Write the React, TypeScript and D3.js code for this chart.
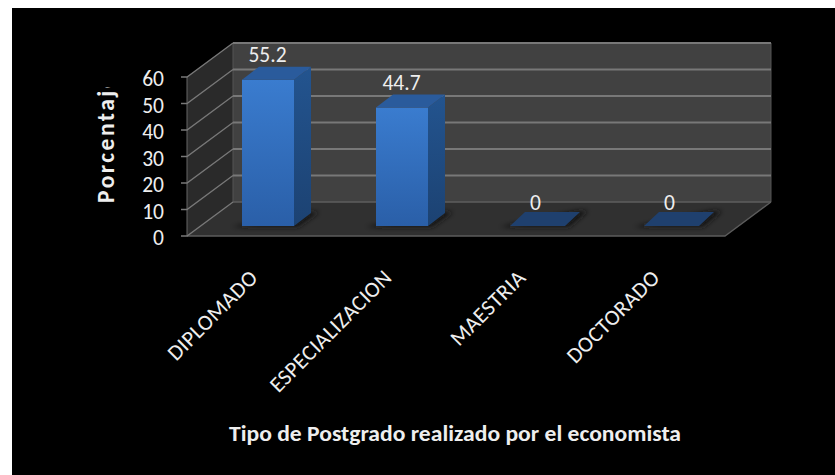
import React from "react";
import * as d3 from "d3";

const categories = ["DIPLOMADO", "ESPECIALIZACION", "MAESTRIA", "DOCTORADO"];
const values = [55.2, 44.7, 0, 0];
const valueLabels = ["55.2", "44.7", "0", "0"];
const yTicks = [0, 10, 20, 30, 40, 50, 60];
const yTitle = "Porcentaje";
const xTitle = "Tipo de Postgrado realizado por el economista";
const font = "Carlito, 'Open Sans', 'Noto Sans', sans-serif";

const W = 835, H = 475;
const y = d3.scaleLinear().domain([0, 60]).range([236, 77]);
const x = d3.scaleBand<string>().domain(categories).range([175, 711]).paddingInner(0);
const wallDx = 46, wallDy = -34;
const barDy = -13, barOffsetY = -10, barLeftInset = 67;
const frontL = 187, frontR = 725;

export default function App() {
  const y0 = y(0), y60 = y(60);
  const poly = (p: number[][]) => p.map((a) => a.join(",")).join(" ");
  return (
    <svg width={W} height={H} style={{ position: "absolute", left: 0, top: 0, background: "#fff" }} fontFamily={font}>
      <defs>
        <linearGradient id="front" x1="0" y1="0" x2="0" y2="1">
          <stop offset="0" stopColor="#3a7ccf" />
          <stop offset="1" stopColor="#2a5fa8" />
        </linearGradient>
        <linearGradient id="side" x1="0" y1="0" x2="0" y2="1">
          <stop offset="0" stopColor="#23548f" />
          <stop offset="1" stopColor="#1c4272" />
        </linearGradient>
        <filter id="soft" x="-20%" y="-50%" width="140%" height="200%">
          <feGaussianBlur stdDeviation="2.5" />
        </filter>
        <clipPath id="ytitle"><rect x="95" y="87" width="30" height="125" /></clipPath>
      </defs>
      <rect x={12} y={8} width={823} height={467} fill="#000" />

      {/* back wall */}
      <rect x={frontL + wallDx} y={y60 + wallDy} width={frontR - frontL} height={y0 - y60} fill="#414141" />
      {/* side wall */}
      <polygon
        points={poly([[frontL, y0], [frontL + wallDx, y0 + wallDy], [frontL + wallDx, y60 + wallDy], [frontL, y60]])}
        fill="#2a2a2a"
      />
      {/* floor */}
      <polygon
        points={poly([[frontL, y0], [frontR, y0], [frontR + wallDx, y0 + wallDy], [frontL + wallDx, y0 + wallDy]])}
        fill="#303030"
      />
      <polyline points={poly([[frontL, y0], [frontR, y0], [frontR + wallDx, y0 + wallDy]])} fill="none" stroke="#5c5c5c" strokeWidth={1.3} />
      <line x1={frontL + wallDx} x2={frontL + wallDx} y1={y60 + wallDy} y2={y0 + wallDy} stroke="#555" />
      <line x1={frontR + wallDx} x2={frontR + wallDx} y1={y60 + wallDy} y2={y0 + wallDy} stroke="#555" />
      <line x1={frontL} x2={frontL} y1={y60} y2={y0} stroke="#666" />

      {/* gridlines and ticks */}
      {yTicks.map((t) => (
        <g key={t}>
          <line
            x1={frontL + wallDx}
            x2={frontR + wallDx}
            y1={y(t) + wallDy}
            y2={y(t) + wallDy}
            stroke={t === 0 ? "#5e5e5e" : "#787878"}
            strokeWidth={t === 0 ? 1.5 : 2.2}
          />
          <polyline
            points={poly([[frontL - 6, y(t)], [frontL, y(t)], [frontL + wallDx, y(t) + wallDy]])}
            fill="none"
            stroke="#787878"
            strokeWidth={1.3}
          />
          <text x={164} y={y(t) + 9} textAnchor="end" fontSize={21.5} fill="#eeeeee">{t}</text>
        </g>
      ))}

      {/* bars */}
      {categories.map((c, i) => {
        const v = values[i];
        const L = (x(c) as number) + barLeftInset;
        const flat = v === 0;
        const R = L + (flat ? 55 : 52);
        const b = y(0) + barOffsetY;
        const t = y(v) + barOffsetY;
        const dx = flat ? 15 : 17;
        const dy = flat ? -14 : barDy;
        return (
          <g key={c}>
            <polygon
              points={poly([[L - 10, b + 1], [R + 4, b + 1], [R + dx + 8, b + dy - 1], [R + dx - 2, b + dy - 1]])}
              fill="#141414"
              filter="url(#soft)"
            />
            {!flat && <rect x={L} y={t} width={R - L} height={b - t} fill="url(#front)" />}
            {!flat && <polygon points={poly([[R, b], [R + dx, b + dy], [R + dx, t + dy], [R, t]])} fill="url(#side)" />}
            <polygon
              points={poly([[L, t], [R, t], [R + dx, t + dy], [L + dx, t + dy]])}
              fill={flat ? "#1f406e" : "#2a5b9c"}
            />
            <text
              x={L + 25.5}
              y={t - (flat ? 16 : 18)}
              textAnchor="middle"
              fontSize={21.5}
              fill="#eeeeee"
            >
              {valueLabels[i]}
            </text>
            <text
              transform={`translate(${L + 17},279) rotate(-45)`}
              textAnchor="end"
              fontSize={22}
              letterSpacing={0.4}
              fill="#eeeeee"
            >
              {c}
            </text>
          </g>
        );
      })}

      <g clipPath="url(#ytitle)">
        <text
          transform="translate(114,203) rotate(-90)"
          textAnchor="start"
          fontSize={23.5}
          fontWeight={700}
          letterSpacing={2.5}
          fill="#eeeeee"
        >
          {yTitle}
        </text>
      </g>
      <text
        x={229}
        y={441}
        fontSize={23}
        fontWeight={700}
        textLength={452}
        lengthAdjust="spacingAndGlyphs"
        fill="#eeeeee"
      >
        {xTitle}
      </text>
    </svg>
  );
}
